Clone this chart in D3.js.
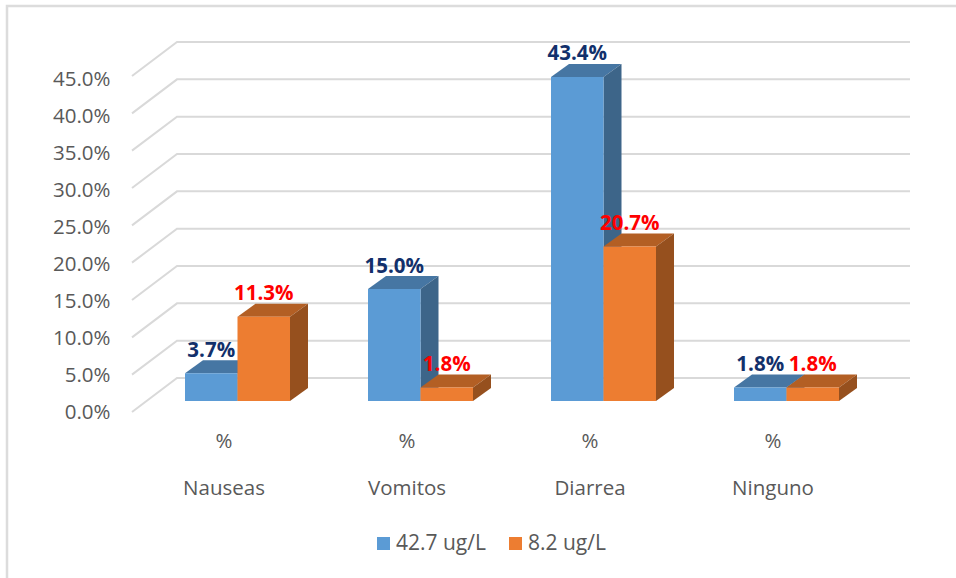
<!DOCTYPE html>
<html><head><meta charset="utf-8">
<script src="https://cdn.jsdelivr.net/npm/d3@7/dist/d3.min.js"></script>
<style>html,body{margin:0;padding:0;background:#fff}svg{display:block}text{font-family:"Open Sans","Noto Sans",sans-serif}</style>
</head><body><svg id="c" width="956" height="578"></svg>
<script>
const categories = ["Nauseas","Vomitos","Diarrea","Ninguno"];
const subLabels = ["%","%","%","%"];
const seriesNames = ["42.7 ug/L","8.2 ug/L"];
const seriesA = [3.7,15.0,43.4,1.8];
const seriesB = [11.3,1.8,20.7,1.8];
const ticks = [0,5,10,15,20,25,30,35,40,45];
const colorsFront = ["#5b9bd5","#ed7d31"];
const colorsTop = ["#4676a3","#b35f24"];
const colorsSide = ["#3d6589","#96501e"];
const labelColors = ["#12306b","#ff0000"];

const svg = d3.select("#c");
svg.append("path").attr("d",d3.line()([[956,6],[7,6],[7,578]])).attr("fill","none").attr("stroke","#dcdcdc").attr("stroke-width",2.5);

const y = d3.scaleLinear().domain([0,45]).range([401,65]);
const yLabel = d3.scaleLinear().domain([0,45]).range([418.7,86]);
const x0 = d3.scaleBand().domain(categories).range([146,878]).padding(0);
const barW = 52.5, depX = 18, depY = 13;
const gx0 = 132, gx1 = 177, gx2 = 910, backOff = 23, frontOff = 11;

const grid = svg.append("g").attr("fill","none").attr("stroke","#d9d9d9").attr("stroke-width",2);
ticks.forEach(t=>{
  const yy = y(t);
  grid.append("path").attr("d",d3.line()([[gx0,yy+frontOff],[gx1,yy-backOff],[gx2,yy-backOff]]));
});
svg.append("g").selectAll("text").data(ticks).join("text")
  .attr("x",110.5).attr("y",t=>yLabel(t)).attr("text-anchor","end")
  .attr("font-size",20.5).attr("fill","#595959").text(t=>d3.format(".1f")(t)+"%");

function bar(g,xl,v,i){
  const t=y(v), b=y(0), r=xl+barW;
  const poly=(pts,c)=>g.append("polygon").attr("points",pts.map(p=>p.join(",")).join(" ")).attr("fill",c);
  poly([[xl,t],[xl+depX,t-depY],[r+depX,t-depY],[r,t]],colorsTop[i]);
  poly([[r,t],[r+depX,t-depY],[r+depX,b-depY],[r,b]],colorsSide[i]);
  poly([[xl,t],[r,t],[r,b],[xl,b]],colorsFront[i]);
}
const bars=svg.append("g");
categories.forEach((c,k)=>{
  const cx=x0(c)+x0.bandwidth()/2;
  bar(bars,cx-barW,seriesA[k],0);
  bar(bars,cx,seriesB[k],1);
});
const labels=svg.append("g").attr("font-weight",700).attr("font-size",20.5).attr("text-anchor","middle");
categories.forEach((c,k)=>{
  const cx=x0(c)+x0.bandwidth()/2;
  [seriesA,seriesB].forEach((s,i)=>{
    labels.append("text").attr("x",cx+(i?barW/2:-barW/2))
      .attr("y",y(s[k])-depY-3.5).attr("fill",labelColors[i]).text(d3.format(".1f")(s[k])+"%");
  });
  svg.append("text").attr("x",cx-13.5).attr("y",448).attr("text-anchor","middle").attr("font-size",20.5).attr("fill","#595959").text(subLabels[k]);
  svg.append("text").attr("x",cx-13.5).attr("y",495).attr("text-anchor","middle").attr("font-size",20.5).attr("fill","#595959").text(c);
});
const lg=svg.append("g");
[[377,396],[509,528]].forEach((p,i)=>{
  lg.append("rect").attr("x",p[0]).attr("y",537).attr("width",13).attr("height",13).attr("fill",colorsFront[i]);
  lg.append("text").attr("x",p[1]).attr("y",550).attr("font-size",21).attr("fill","#595959").text(seriesNames[i]);
});
</script></body></html>
